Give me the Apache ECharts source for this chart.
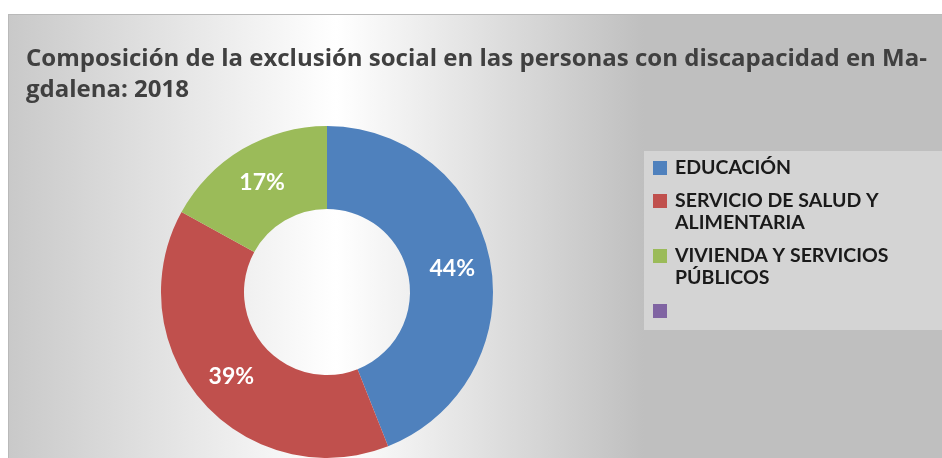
<!DOCTYPE html>
<html>
<head>
<meta charset="utf-8">
<script src="https://cdn.jsdelivr.net/npm/echarts@6/dist/echarts.min.js"></script>
<style>
  html, body { margin: 0; padding: 0; background: #fff; }
  #backdrop {
    position: absolute; left: 8px; top: 14px; width: 934px; height: 444px;
    border-top: 1px solid #b9b9b9; border-left: 1px solid #b9b9b9;
    background: linear-gradient(to right, #c9c9c9 0%, #ffffff 35%, #bfbfbf 68%, #bfbfbf 100%);
  }
  #chart { position: absolute; left: 0; top: 0; width: 942px; height: 458px; }
</style>
</head>
<body>
<div id="backdrop"></div>
<div id="chart"></div>
<script>
// data (percent of total)
var titleText = 'Composición de la exclusión social en las personas con discapacidad en Ma-\ngdalena: 2018';
var categories = ['EDUCACIÓN', 'SERVICIO DE SALUD Y\nALIMENTARIA', 'VIVIENDA Y SERVICIOS\nPÚBLICOS', ' '];
var values = [44, 39, 17, 0];
var colors = ['#4F81BD', '#C0504D', '#9BBB59', '#8064A2'];

// square icon; the two-line items get a taller box so the square sits on the first line
var squareIcon = 'path://M0,0L14,0L14,14L0,14Z';
var tallIcon = 'path://M0,0L14,0L14,14L0,14Z M0,36';

var chart = echarts.init(document.getElementById('chart'));

var pieData = categories.map(function (name, i) {
  var item = { name: name, value: values[i], itemStyle: { color: colors[i] } };
  if (!values[i]) item.label = { show: false };
  return item;
});

var legendData = categories.map(function (name) {
  return { name: name, icon: name.indexOf('\n') >= 0 ? tallIcon : squareIcon };
});

chart.setOption({
  animation: false,
  title: {
    text: titleText,
    left: 21,
    top: 39,
    textStyle: {
      fontFamily: 'Open Sans',
      fontWeight: 'bold',
      fontSize: 24,
      lineHeight: 31,
      color: '#404040'
    }
  },
  legend: {
    orient: 'vertical',
    left: 644,
    top: 151,
    backgroundColor: '#d4d4d4',
    padding: [6, 80, 8, 9],
    itemWidth: 14,
    itemHeight: 36,
    itemGap: 11,
    selectedMode: false,
    data: legendData,
    textStyle: {
      fontFamily: 'Lato',
      fontWeight: 'bold',
      fontSize: 19.5,
      lineHeight: 22,
      color: '#1a1a1a',
      padding: [0, 0, 0, 3]
    }
  },
  series: [{
    type: 'pie',
    center: [327, 292],
    radius: [83, 166],
    startAngle: 90,
    clockwise: true,
    silent: true,
    itemStyle: { borderWidth: 0 },
    label: {
      show: true,
      position: 'inside',
      formatter: '{c}%',
      color: '#ffffff',
      fontFamily: 'Lato',
      fontWeight: 'bold',
      fontSize: 23
    },
    labelLine: { show: false },
    data: pieData
  }]
});
</script>
</body>
</html>
